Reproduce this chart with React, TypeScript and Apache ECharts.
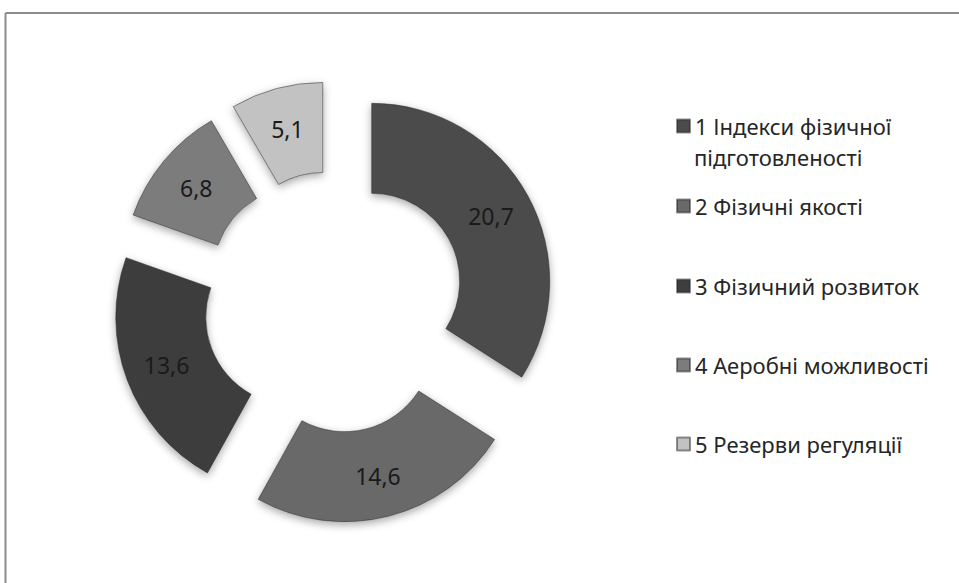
import React, { useEffect, useRef } from "react";
import * as echarts from "echarts";

const categories = [
  "1 Індекси фізичної підготовленості",
  "2 Фізичні якості",
  "3 Фізичний розвиток",
  "4 Аеробні можливості",
  "5 Резерви регуляції",
];
const values = [20.7, 14.6, 13.6, 6.8, 5.1];
const valueLabels = ["20,7", "14,6", "13,6", "6,8", "5,1"];
const colors = ["#4b4b4b", "#696969", "#3e3e3e", "#7c7c7c", "#c2c2c2"];
const legendCenters = [126, 206, 286, 365, 444];

export default function App() {
  const ref = useRef<HTMLDivElement>(null);
  useEffect(() => {
    document.body.style.margin = "0";
    const chart = echarts.init(ref.current!, null, { renderer: "svg" });
    const font = "'Noto Sans', 'Open Sans', sans-serif";
    const legends = categories.map((name, i) => ({
      show: true,
      orient: "vertical",
      left: 676,
      top: legendCenters[i] - 14,
      padding: 0,
      itemWidth: 13,
      itemHeight: 13,
      icon: "rect",
      selectedMode: false,
      data: [name],
      formatter: (n: string) => (i === 0 ? "1 Індекси фізичної" : n),
      textStyle: { fontFamily: font, fontSize: 22, color: "#262626", lineHeight: 28 },
    }));
    chart.setOption({
      animation: false,
      backgroundColor: "#ffffff",
      legend: legends,
      graphic: [
        { type: "line", shape: { x1: 5.5, y1: 13, x2: 959, y2: 13 }, style: { stroke: "#8c8c8c", lineWidth: 2 } },
        { type: "line", shape: { x1: 5.5, y1: 13, x2: 5.5, y2: 583 }, style: { stroke: "#8c8c8c", lineWidth: 2 } },
        {
          type: "text",
          x: 694,
          y: 157,
          style: {
            text: "підготовленості",
            font: `22px ${font}`,
            fill: "#262626",
            verticalAlign: "middle",
          },
        },
      ],
      series: [
        {
          type: "pie",
          center: [334, 302],
          radius: [88, 178],
          startAngle: 90,
          clockwise: true,
          selectedMode: "multiple",
          selectedOffset: 43,
          emphasis: { disabled: true },
          itemStyle: {
            borderColor: "rgba(40,40,40,0.5)",
            borderWidth: 1,
            shadowBlur: 8,
            shadowColor: "rgba(0,0,0,0.35)",
            shadowOffsetY: 3,
          },
          label: {
            show: true,
            position: "inside",
            fontFamily: font,
            fontSize: 23,
            color: "#1a1a1a",
            formatter: (p: any) => valueLabels[p.dataIndex],
          },
          labelLine: { show: false },
          data: categories.map((name, i) => ({
            name,
            value: values[i],
            selected: true,
            itemStyle: { color: colors[i] },
          })),
        },
      ],
    });
    return () => chart.dispose();
  }, []);
  return <div ref={ref} style={{ width: 959, height: 583 }} />;
}
